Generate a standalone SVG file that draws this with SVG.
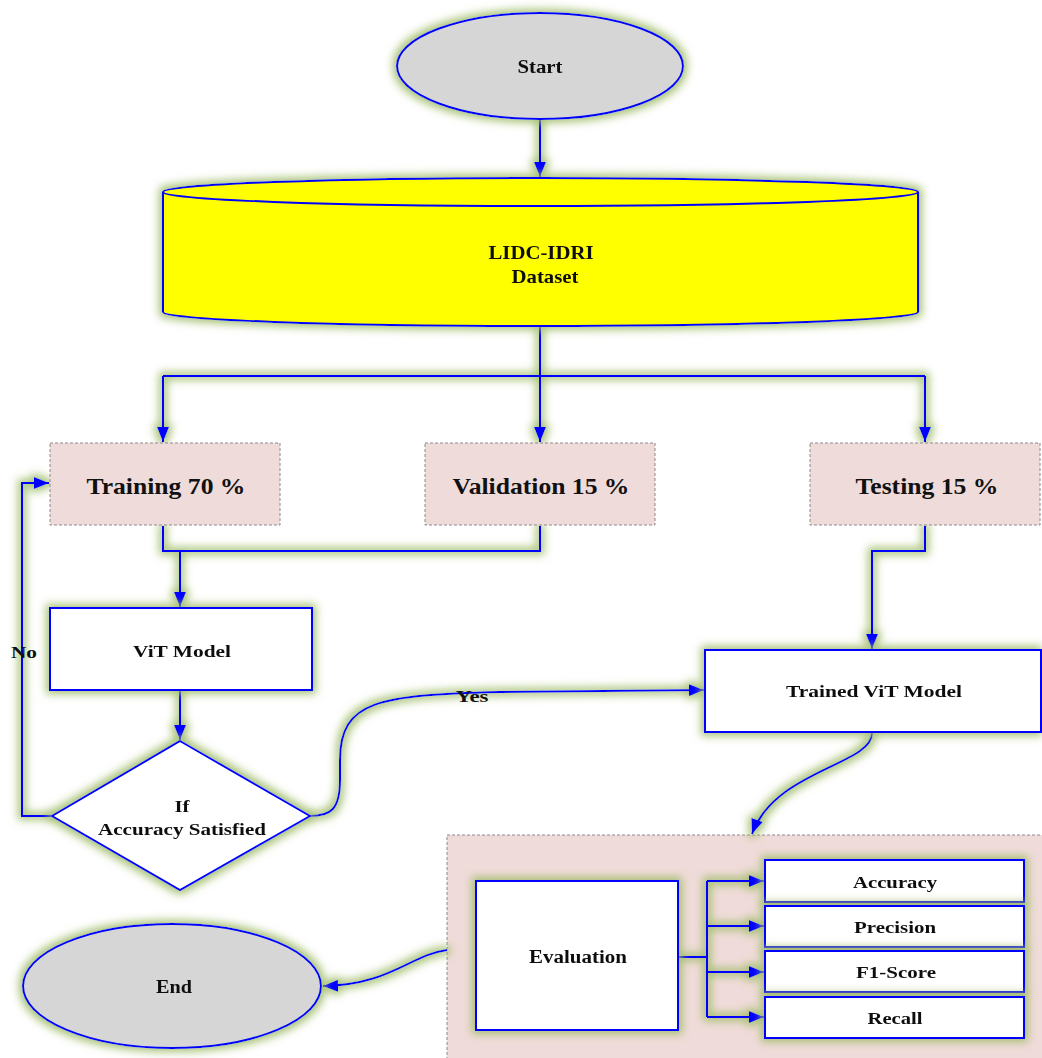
<svg xmlns="http://www.w3.org/2000/svg" width="1042" height="1058" viewBox="0 0 1042 1058">
<style>
.t{font-family:"Liberation Serif","Times New Roman",serif;font-weight:bold;fill:#111;text-anchor:middle}
.n{stroke:#0000ff;stroke-width:2;fill:#fff}
.g{fill:#d6d6d6}
.d{fill:#efdbd9;stroke:#8a8a8a;stroke-width:1;stroke-dasharray:3 2}
.c{fill:none;stroke:#0000ff;stroke-width:2}
</style>
<defs>
<filter id="glow" filterUnits="userSpaceOnUse" x="0" y="0" width="1042" height="1058">
<feMorphology in="SourceAlpha" operator="dilate" radius="3" result="d"/>
<feGaussianBlur in="d" stdDeviation="4.5" result="b"/>
<feFlood flood-color="#9fbb68" flood-opacity="0.9"/>
<feComposite in2="b" operator="in" result="gl"/>
<feMerge><feMergeNode in="gl"/><feMergeNode in="SourceGraphic"/></feMerge>
</filter>
<marker id="arb" viewBox="0 0 10 10" refX="10" refY="5" markerWidth="15" markerHeight="12" orient="auto" markerUnits="userSpaceOnUse" preserveAspectRatio="none">
<path d="M0,0 L10,5 L0,10 z" fill="#0000ff"/>
</marker>
</defs>
<rect width="1042" height="1058" fill="#fff"/>

<g id="eval-container">
<rect class="d" x="447" y="835" width="600" height="230"/>
</g>

<g id="connectors" filter="url(#glow)">
<path class="c" d="M540,119 V177" marker-end="url(#arb)"/>
<path class="c" d="M540,327 V376 M163,376 H925"/>
<path class="c" d="M163,376 V442" marker-end="url(#arb)"/>
<path class="c" d="M540,376 V442" marker-end="url(#arb)"/>
<path class="c" d="M925,376 V442" marker-end="url(#arb)"/>
<path class="c" d="M163,526 V551 H540 V526"/>
<path class="c" d="M180,551 V607" marker-end="url(#arb)"/>
<path class="c" d="M180,691 V740" marker-end="url(#arb)"/>
<path class="c" d="M52,816 H22 V483 H49" marker-end="url(#arb)"/>
<path class="c" d="M310,816 C330,816 340,810 340,780 V760 C340,700 380,695 500,692 L704,690" marker-end="url(#arb)"/>
<path class="c" d="M925,526 V551 H872 V649" marker-end="url(#arb)"/>
<path class="c" d="M872,733 C872,765 775,770 752,834" marker-end="url(#arb)"/>
<path class="c" d="M678,957 H707 M707,881 V1017"/>
<path class="c" d="M707,881 H764" marker-end="url(#arb)"/>
<path class="c" d="M707,926 H764" marker-end="url(#arb)"/>
<path class="c" d="M707,972 H764" marker-end="url(#arb)"/>
<path class="c" d="M707,1017 H764" marker-end="url(#arb)"/>
<path class="c" d="M447,950 C410,955 390,985 323,986" marker-end="url(#arb)"/>
</g>

<g id="start" filter="url(#glow)">
<ellipse class="n g" cx="540" cy="66" rx="143" ry="53"/>
<text class="t" x="540" y="73" font-size="19" textLength="45" lengthAdjust="spacingAndGlyphs">Start</text>
</g>

<g id="dataset" filter="url(#glow)">
<path class="n" style="fill:#ffff00" d="M163,192 A377,14 0 0 1 918,192 V312 A377,14 0 0 1 163,312 Z"/>
<path class="c" d="M163,192 A377,14 0 0 0 918,192"/>
<text class="t" x="541" y="259" font-size="19" textLength="105" lengthAdjust="spacingAndGlyphs">LIDC-IDRI</text>
<text class="t" x="545" y="283" font-size="19" textLength="67" lengthAdjust="spacingAndGlyphs">Dataset</text>
</g>

<g id="training">
<rect class="d" x="50" y="443" width="230" height="82"/>
<text class="t" x="166" y="494" font-size="23" textLength="159" lengthAdjust="spacingAndGlyphs">Training 70 %</text>
</g>
<g id="validation">
<rect class="d" x="425" y="443" width="230" height="82"/>
<text class="t" x="541" y="494" font-size="23" textLength="177" lengthAdjust="spacingAndGlyphs">Validation 15 %</text>
</g>
<g id="testing">
<rect class="d" x="810" y="443" width="230" height="82"/>
<text class="t" x="927" y="494" font-size="23" textLength="143" lengthAdjust="spacingAndGlyphs">Testing 15 %</text>
</g>

<g id="vit" filter="url(#glow)">
<rect class="n" x="50" y="608" width="262" height="82"/>
<text class="t" x="182" y="657" font-size="17" textLength="98" lengthAdjust="spacingAndGlyphs">ViT Model</text>
</g>

<g id="decision" filter="url(#glow)">
<path class="n" d="M180,741 L310,816 L180,890 L52,816 Z"/>
<text class="t" x="182" y="812" font-size="17" textLength="15" lengthAdjust="spacingAndGlyphs">If</text>
<text class="t" x="182" y="835" font-size="17" textLength="168" lengthAdjust="spacingAndGlyphs">Accuracy Satisfied</text>
</g>

<g id="labels">
<text class="t" x="24" y="658" font-size="17" textLength="26" lengthAdjust="spacingAndGlyphs">No</text>
<text class="t" x="472" y="702" font-size="17" textLength="33" lengthAdjust="spacingAndGlyphs">Yes</text>
</g>

<g id="trained" filter="url(#glow)">
<rect class="n" x="705" y="650" width="336" height="82"/>
<text class="t" x="874" y="697" font-size="17" textLength="176" lengthAdjust="spacingAndGlyphs">Trained ViT Model</text>
</g>

<g id="evaluation" filter="url(#glow)">
<rect class="n" x="476" y="881" width="202" height="149"/>
<text class="t" x="578" y="963" font-size="18" textLength="98" lengthAdjust="spacingAndGlyphs">Evaluation</text>
</g>

<g id="accuracy" filter="url(#glow)">
<rect class="n" x="765" y="860" width="259" height="42"/>
<text class="t" x="895" y="888" font-size="17" textLength="84" lengthAdjust="spacingAndGlyphs">Accuracy</text>
</g>
<g id="precision" filter="url(#glow)">
<rect class="n" x="765" y="906" width="259" height="41"/>
<text class="t" x="895" y="933" font-size="17" textLength="82" lengthAdjust="spacingAndGlyphs">Precision</text>
</g>
<g id="f1" filter="url(#glow)">
<rect class="n" x="765" y="951" width="259" height="41"/>
<text class="t" x="896" y="978" font-size="17" textLength="80" lengthAdjust="spacingAndGlyphs">F1-Score</text>
</g>
<g id="recall" filter="url(#glow)">
<rect class="n" x="765" y="997" width="259" height="41"/>
<text class="t" x="895" y="1024" font-size="17" textLength="55" lengthAdjust="spacingAndGlyphs">Recall</text>
</g>

<g id="end" filter="url(#glow)">
<ellipse class="n g" cx="172" cy="986" rx="149" ry="62"/>
<text class="t" x="174" y="993" font-size="19" textLength="36" lengthAdjust="spacingAndGlyphs">End</text>
</g>
</svg>
